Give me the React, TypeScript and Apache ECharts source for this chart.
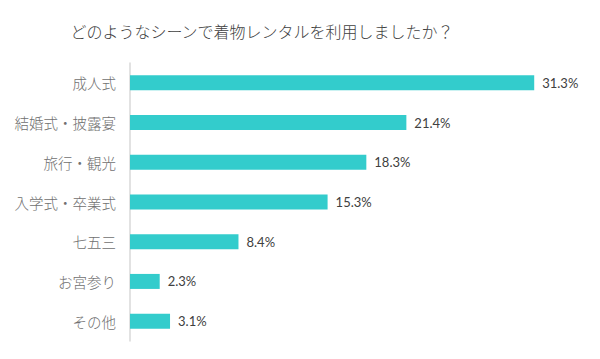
import React, { useEffect, useRef } from "react";
import * as echarts from "echarts";

const categories = ["成人式", "結婚式・披露宴", "旅行・観光", "入学式・卒業式", "七五三", "お宮参り", "その他"];
const values = [31.3, 21.4, 18.3, 15.3, 8.4, 2.3, 3.1];
const titleText = "どのようなシーンで着物レンタルを利用しましたか？";

export default function App() {
  const ref = useRef<HTMLDivElement>(null);
  useEffect(() => {
    if (!ref.current) return;
    const chart = echarts.init(ref.current, undefined, { renderer: "svg" });
    chart.setOption({
      animation: false,
      backgroundColor: "#ffffff",
      title: {
        text: titleText,
        left: 257,
        top: 18,
        textAlign: "center",
        textStyle: {
          fontFamily: "Noto Sans CJK JP",
          fontSize: 16,
          fontWeight: 300,
          color: "#404040",
        },
      },
      grid: { left: 130, top: 63, width: 452, height: 278, containLabel: false },
      xAxis: {
        type: "value",
        min: 0,
        max: 35,
        show: false,
      },
      yAxis: {
        type: "category",
        data: categories,
        inverse: true,
        axisLine: { show: true, lineStyle: { color: "#d9d9d9", width: 1.5 } },
        axisTick: { show: false },
        axisLabel: {
          margin: 14,
          fontFamily: "Noto Sans CJK JP",
          fontSize: 14.5,
          fontWeight: 300,
          color: "#707070",
        },
        splitLine: { show: false },
      },
      series: [
        {
          type: "bar",
          data: values,
          barWidth: 15,
          itemStyle: { color: "#33CCCC" },
          label: {
            show: true,
            position: "right",
            distance: 8,
            formatter: (p: any) => p.value.toFixed(1) + "%",
            fontFamily: "Lato",
            fontSize: 13,
            color: "#404040",
          },
        },
      ],
    });
    return () => chart.dispose();
  }, []);
  return <div ref={ref} style={{ width: 600, height: 359, margin: -8 }} />;
}
